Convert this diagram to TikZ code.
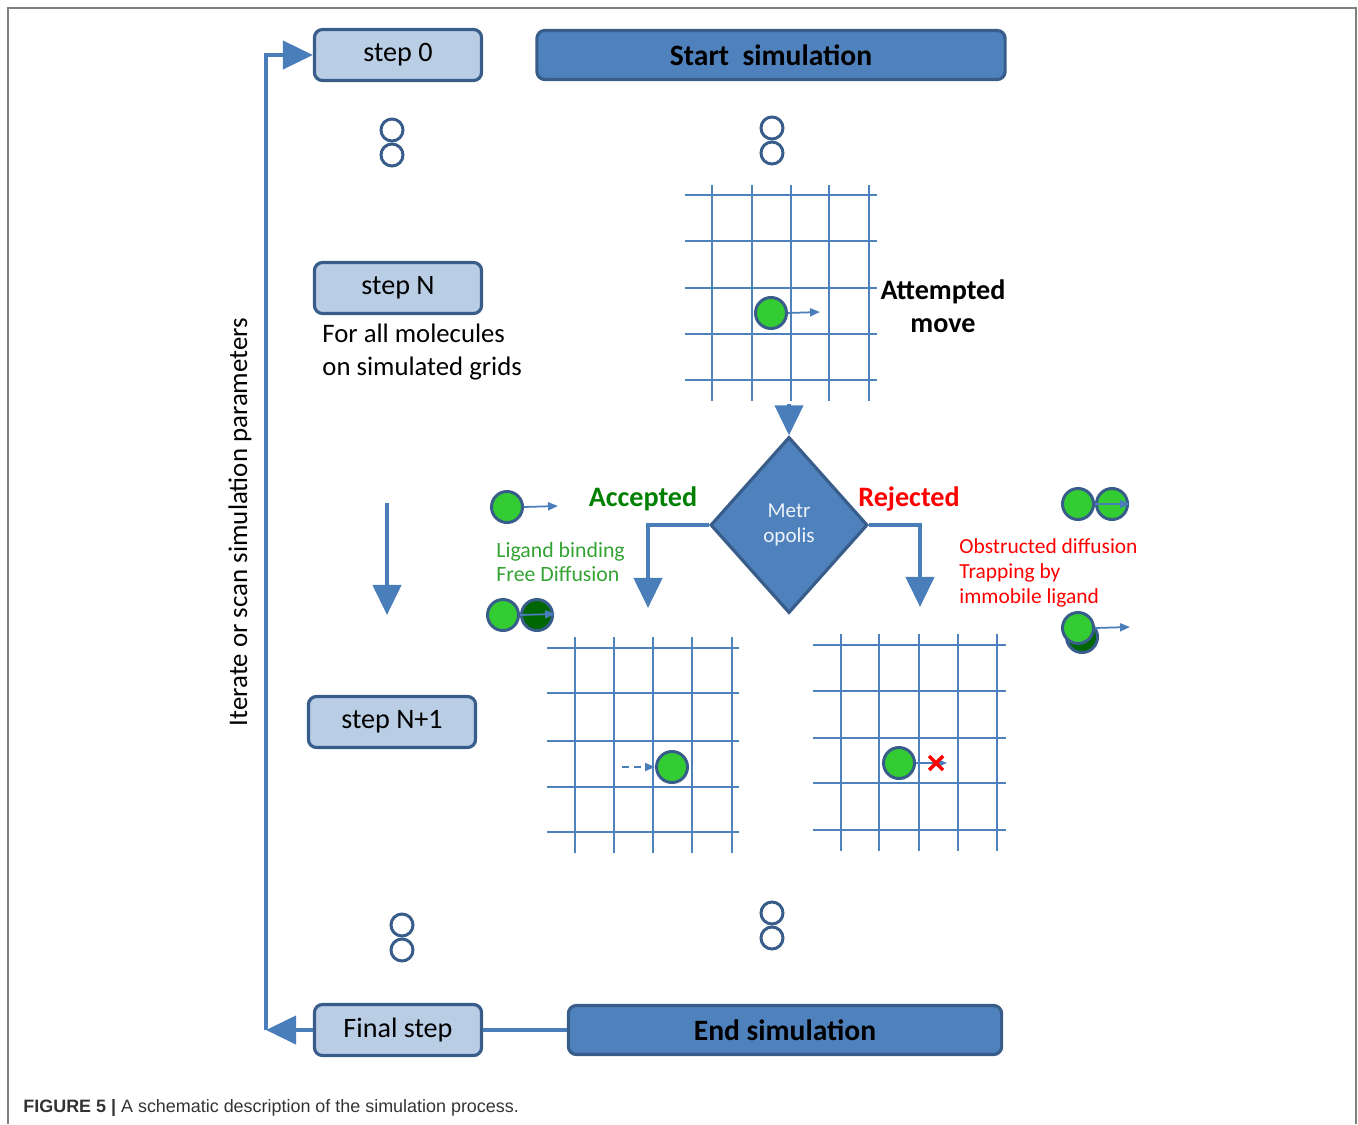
\documentclass[tikz,border=0pt]{standalone}
\usepackage{fontspec}
\setmainfont{Carlito}
\newfontfamily\capfont{Liberation Sans}
\usetikzlibrary{arrows.meta,shapes.geometric}
\definecolor{boxblue}{HTML}{B9CDE5}
\definecolor{darkblue}{HTML}{4F81BD}
\definecolor{edgeblue}{HTML}{385D8A}
\definecolor{lineblue}{HTML}{4A7EBB}
\definecolor{molgreen}{HTML}{33CC33}
\definecolor{boundgreen}{HTML}{006600}
\definecolor{labelgreen}{HTML}{33A333}
\definecolor{accgreen}{HTML}{008000}

\begin{document}
\begin{tikzpicture}[x=0.01cm,y=-0.01cm,
    stepbox/.style={draw=edgeblue,line width=0.9pt,fill=boxblue,rounded corners=0.08cm,
        minimum width=1.67cm,minimum height=0.51cm,font=\fontsize{8}{9}\selectfont},
    simbox/.style={draw=edgeblue,line width=0.9pt,fill=darkblue,rounded corners=0.08cm,
        minimum height=0.49cm,font=\fontsize{8.4}{10}\selectfont\bfseries},
    mol/.style={circle,draw=edgeblue,line width=0.85pt,fill=molgreen,minimum size=0.31cm,inner sep=0pt},
    boundmol/.style={mol,fill=boundgreen},
    pausedot/.style={circle,draw=edgeblue,line width=0.85pt,minimum size=0.22cm,inner sep=0pt},
    bigarrow/.style={draw=lineblue,line width=1.2pt,-{Triangle[width=0.28cm,length=0.3cm]}},
    smallarrow/.style={draw=lineblue,line width=0.5pt,-{Triangle[width=0.08cm,length=0.1cm]}},
    gridline/.style={draw=darkblue,line width=0.6pt}]
    \useasboundingbox (0,0) rectangle (1358,1124);
    \draw[gray,line width=0.8pt] (8,1124) -- (8,8) -- (1356,8) -- (1356,1124);

    % boxes of the left column
    \node[stepbox] (step0) at (398,55) {step 0};
    \node[stepbox] (stepN) at (398,288) {step N};
    \node[stepbox] (stepN1) at (392,722) {step N+1};
    \node[stepbox] (final) at (398,1030) {Final step};
    \node[simbox,minimum width=4.68cm] (startsim) at (771,55) {Start\ \ simulation};
    \node[simbox,minimum width=4.33cm] (endsim) at (785,1030) {End simulation};

    \node[anchor=west,align=left,font=\fontsize{7.6}{9.4}\selectfont] (forall) at (310,352)
        {For all molecules\\on simulated grids};
    \node[rotate=90,font=\fontsize{7.65}{9}\selectfont] (itlabel) at (240,522)
        {Iterate or scan simulation parameters};

    % pauses
    \foreach \x/\y in {392/130,772/128,402/925,772/913}{
        \node[pausedot] at (\x,\y) {};
        \node[pausedot] at (\x,\y+25) {};
    }

    % loop
    \coordinate (loopcorner) at (266,1030);
    \draw[bigarrow] (final.west) -- (loopcorner);
    \draw[bigarrow] (loopcorner) |- (step0.west);
    \draw[lineblue,line width=1.2pt] (final.east) -- (endsim.west);
    \coordinate (downtop) at (387,503);
    \coordinate (downtip) at (387,615);
    \draw[bigarrow] (downtop) -- (downtip);

    % grids
    \foreach \x in {712,752,791,829,869}{
        \draw[gridline] (\x,185) -- (\x,401);
    }
    \foreach \y in {195,241,288,334,380}{
        \draw[gridline] (685,\y) -- (877,\y);
    }
    \foreach \x in {575,614,653,692,732}{
        \draw[gridline] (\x,637) -- (\x,853);
    }
    \foreach \y in {648,693,741,787,832}{
        \draw[gridline] (547,\y) -- (739,\y);
    }
    \foreach \x in {841,879,919,958,997}{
        \draw[gridline] (\x,634) -- (\x,851);
    }
    \foreach \y in {645,691,738,783,830}{
        \draw[gridline] (813,\y) -- (1006,\y);
    }

    % attempted move
    \node[mol] (movemol) at (771,313) {};
    \coordinate (movetip) at (820,312);
    \draw[smallarrow] (movemol.east) -- (movetip);
    \node[align=center,font=\fontsize{8}{9.4}\selectfont\bfseries] (attempt) at (943,306)
        {Attempted\\move};

    % decision
    \node[diamond,draw=edgeblue,line width=0.9pt,fill=darkblue,minimum width=1.57cm,
        minimum height=1.76cm,inner sep=0pt,align=center,text=white!90!darkblue,
        font=\fontsize{6}{7}\selectfont] (metro) at (789,525) {Metr\\opolis};
    \coordinate (gridbottom) at (789,404);
    \draw[bigarrow] (gridbottom) -- (metro.north);
    \coordinate (acctip) at (648,608);
    \coordinate (rejtip) at (920,607);
    \draw[bigarrow] (metro.west) -| (acctip);
    \draw[bigarrow] (metro.east) -| (rejtip);
    \node[font=\fontsize{8}{9}\selectfont\bfseries,text=accgreen] (acclabel) at (643,499) {Accepted};
    \node[font=\fontsize{8}{9}\selectfont\bfseries,text=red] (rejlabel) at (909,499) {Rejected};
    \node[anchor=west,align=left,text=labelgreen,font=\fontsize{6.2}{7}\selectfont] (liglabel) at (484,562)
        {Ligand binding\\Free Diffusion};
    \node[anchor=west,align=left,text=red,font=\fontsize{6.1}{7}\selectfont] (obslabel) at (947,573)
        {Obstructed diffusion\\Trapping by\\immobile ligand};

    % accepted moves
    \node[mol] (freemol) at (507,507) {};
    \coordinate (freetip) at (558,506);
    \draw[smallarrow] (freemol.east) -- (freetip);
    \node[mol] (ligA) at (503,615) {};
    \node[boundmol] (ligB) at (537,615) {};
    \coordinate (ligtip) at (555,614);
    \draw[smallarrow] (ligA.east) -- (ligtip);
    \node[mol] (accmol) at (672,767) {};
    \coordinate (accstart) at (622,767);
    \draw[smallarrow,dash pattern=on 2pt off 1.5pt] (accstart) -- (accmol.west);

    % rejected moves
    \node[mol] (obsA) at (1078,504) {};
    \node[mol] (obsB) at (1112,504) {};
    \coordinate (obstip) at (1130,504);
    \draw[smallarrow] (obsA.east) -- (obstip);
    \node[boundmol] (trapB) at (1082,637) {};
    \node[mol] (trapA) at (1078,628) {};
    \coordinate (traptip) at (1130,627);
    \draw[smallarrow] (trapA.east) -- (traptip);
    \node[mol] (rejmol) at (899,763) {};
    \coordinate (rejend) at (947,763);
    \draw[smallarrow] (rejmol.east) -- (rejend);
    \draw[red,line width=1pt] (929,756) -- (943,770) (929,770) -- (943,756);

    \node[anchor=base west,text=black!80,font=\capfont\fontsize{5.1}{6}\selectfont] (caption) at (11,1112)
        {\textbf{FIGURE 5 |} A schematic description of the simulation process.};
\end{tikzpicture}
\end{document}
